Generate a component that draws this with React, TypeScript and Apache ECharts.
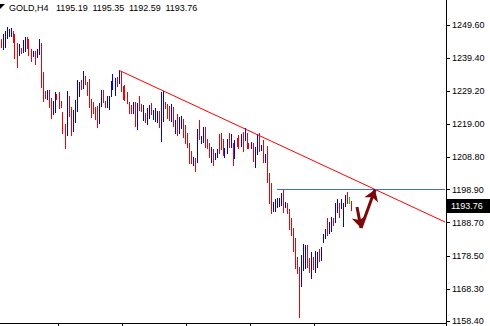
import React, { useEffect, useRef } from "react";
import * as echarts from "echarts";

// Bar highs / lows (oldest first), GOLD H4
const highs = [
  1245.28, 1246.82, 1247.75, 1248.98, 1248.36, 1248.67, 1247.75, 1246.82, 1243.96, 1243.74,
  1242.6, 1244.98, 1245.99, 1245.81, 1245.28, 1242.2, 1241.68, 1241.59, 1242.11, 1245.28,
  1244.14, 1235.21, 1229.35, 1229.57, 1229.57, 1227.01, 1226.27, 1229.05, 1228.34, 1229.05,
  1226.27, 1222.88, 1219.09, 1229.26, 1227.72, 1224.42, 1223.41, 1226.49, 1232.65, 1232.13,
  1232.65, 1235.42, 1233.88, 1232.13, 1232.87, 1226.7, 1225.97, 1224.42, 1224.64, 1225.47,
  1229.57, 1229.57, 1226.27, 1227.72, 1227.72, 1232.44, 1234.41, 1233.18, 1233.67, 1235.73,
  1235.21, 1230.9, 1231.11, 1229.05, 1225.97, 1224.95, 1225.97, 1225.97, 1225.47, 1227.81,
  1225.16, 1224.95, 1222.58, 1223.93, 1224.95, 1225.47, 1223.41, 1223.93, 1223.1, 1223.1,
  1228.95, 1229.26, 1225.97, 1225.16, 1224.73, 1225.16, 1224.42, 1220.33, 1222.18, 1221.34,
  1221.56, 1220.54, 1218.79, 1216.41, 1213.15, 1210.87, 1209.02, 1208.53, 1217.55, 1220.33,
  1215.4, 1218.26, 1218.26, 1214.38, 1213.15, 1212.1, 1211.3, 1210.25, 1211.3, 1216.01,
  1216.41, 1214.38, 1211.61, 1214.38, 1216.23, 1216.01, 1213.33, 1214.17, 1214.69, 1215.71,
  1216.01, 1216.72, 1217.77, 1216.23, 1213.33, 1213.64, 1213.33, 1211.92, 1216.01, 1216.23,
  1212.62, 1214.17, 1209.85, 1212.32, 1204.09, 1200.82, 1195.15, 1195.89, 1196.2, 1196.2,
  1197.93, 1198.97, 1195.15, 1194.85, 1192.81, 1190.04, 1186.96, 1183.88, 1178.02, 1175.13,
  1178.73, 1182.12, 1181.81, 1181.81, 1177.72, 1179.75, 1178.21, 1180.06, 1179.75, 1180.49,
  1181.1, 1185.2, 1186.65, 1190.04, 1188.99, 1190.53, 1190.04, 1194.85, 1195.89, 1194.85,
  1195.89, 1194.66, 1197.22, 1198.24, 1196.51, 1195.35,
];
const lows = [
  1242.91, 1242.3, 1242.91, 1245.5, 1246.3, 1246.12, 1244.45, 1239.52, 1236.75, 1240.35,
  1241.06, 1241.19, 1241.68, 1242.42, 1240.35, 1238.6, 1240.14, 1237.67, 1239.83, 1240.66,
  1230.59, 1226.27, 1227.2, 1226.8, 1224.42, 1221.04, 1222.18, 1222.88, 1226.89, 1224.12,
  1224.42, 1216.41, 1211.79, 1215.71, 1221.56, 1215.71, 1217.03, 1219.8, 1223.1, 1227.72,
  1229.79, 1230.09, 1231.33, 1228.03, 1224.42, 1221.34, 1222.58, 1220.54, 1218.26, 1219.31,
  1224.64, 1225.97, 1224.24, 1224.42, 1223.62, 1227.72, 1229.79, 1228.03, 1230.8, 1231.64,
  1229.26, 1226.8, 1226.49, 1225.47, 1222.39, 1222.39, 1222.39, 1218.57, 1217.55, 1223.41,
  1223.1, 1220.33, 1219.62, 1219.0, 1221.04, 1222.08, 1220.63, 1220.02, 1219.8, 1218.26,
  1213.86, 1220.02, 1223.93, 1220.85, 1220.33, 1220.02, 1218.57, 1216.41, 1215.71, 1216.41,
  1217.77, 1215.18, 1213.33, 1211.92, 1207.17, 1206.99, 1206.46, 1204.71, 1207.48, 1214.38,
  1213.33, 1213.64, 1211.92, 1211.61, 1208.83, 1207.48, 1206.46, 1208.22, 1209.02, 1210.25,
  1211.3, 1209.54, 1208.83, 1210.25, 1212.1, 1212.1, 1206.46, 1208.53, 1212.32, 1211.61,
  1212.32, 1210.87, 1214.17, 1211.61, 1211.61, 1211.61, 1207.79, 1205.94, 1209.76, 1210.87,
  1211.08, 1207.48, 1207.48, 1201.32, 1194.85, 1191.58, 1192.38, 1192.38, 1193.43, 1193.83,
  1194.14, 1192.07, 1193.61, 1191.77, 1186.65, 1184.89, 1180.06, 1174.63, 1173.09, 1159.72,
  1169.18, 1174.11, 1174.63, 1175.13, 1173.59, 1171.55, 1174.33, 1173.59, 1175.13, 1176.98,
  1177.19, 1182.83, 1183.88, 1184.89, 1185.42, 1186.22, 1187.98, 1188.99, 1192.07, 1190.53,
  1193.12, 1187.67, 1193.83, 1194.85, 1194.66, 1192.59,
];
// 1 = up bar (blue), -1 = down bar (red), 0 = unchanged (green)
const dirs = [
  -1, 1, 1, 1, 1, 1, -1, -1, -1, 1,
  -1, 1, 1, -1, -1, -1, 1, -1, 1, 1,
  -1, -1, -1, 1, -1, -1, 1, 1, -1, -1,
  -1, -1, -1, 1, -1, -1, 1, 1, 1, 1,
  -1, 1, -1, -1, -1, -1, -1, -1, -1, 1,
  1, -1, -1, 1, 1, 1, 1, 1, -1, 1,
  -1, -1, -1, -1, -1, -1, 1, -1, 1, -1,
  -1, 1, -1, 1, 1, -1, 1, 1, 1, -1,
  1, 1, -1, -1, -1, 1, -1, 1, -1, 1,
  1, -1, -1, -1, -1, -1, 1, -1, 1, -1,
  1, 1, -1, -1, -1, 1, -1, 1, 1, -1,
  -1, -1, 1, 1, -1, 1, -1, 1, -1, -1,
  1, -1, 1, -1, -1, 1, -1, 1, 1, -1,
  1, -1, 1, -1, -1, -1, 1, 1, 1, 1,
  1, -1, 1, -1, -1, -1, -1, -1, -1, -1,
  1, 1, 1, -1, -1, 1, -1, 1, 1, -1,
  1, 1, 1, -1, 1, 1, -1, 1, 1, -1,
  1, 1, 1, -1, 0, -1,
];

const symbolTitle = "GOLD,H4";
const lastBar = ["1195.19", "1195.35", "1192.59", "1193.76"];
const lastClose = 1193.76;
const priceTicks = [1158.4, 1168.3, 1178.5, 1188.7, 1198.9, 1208.8, 1219.0, 1229.2, 1239.4, 1249.6];
const timeTickSlots = [29, 61, 93, 125, 157];
const slotCount = 223;

// drawn objects (slot index, price)
const trendFrom = [59, 1235.64];
const trendTo = [222, 1188.9];
const levelFrom = [138, 1198.9];
const levelTo = [222, 1198.9];
const arrowTop = [178, 1193.5];
const arrowBottom = [180, 1187.05];
const arrowTarget = [187, 1198.9];

const RED = "#f00000";
const BLUE = "#0000f0";
const GREEN = "#00d000";
const FONT = "Liberation Sans";

export default function App() {
  const ref = useRef<HTMLDivElement>(null);
  useEffect(() => {
    document.body.style.margin = "0";
    const chart = echarts.init(ref.current!, null, { renderer: "svg" });
    const slots = Array.from({ length: slotCount }, (_, i) => String(i));
    const data = highs.map((h, i) => [i, lows[i], h, dirs[i]]);
    const arrowStyle = { color: "#7d0808", width: 3, type: "solid" };
    const option: any = {
      animation: false,
      backgroundColor: "#fff",
      grid: { left: 0, right: 44, top: 0, bottom: 3, containLabel: false },
      xAxis: {
        type: "category",
        data: slots,
        boundaryGap: true,
        axisLine: { show: true, lineStyle: { color: "#000", width: 1 } },
        axisTick: {
          show: true,
          length: 4,
          interval: (idx: number) => timeTickSlots.includes(idx),
          lineStyle: { color: "#000" },
        },
        axisLabel: { show: false },
        splitLine: { show: false },
      },
      yAxis: {
        type: "value",
        position: "right",
        min: 1157.78,
        max: 1257.3,
        scale: true,
        axisLine: { show: true, lineStyle: { color: "#000", width: 1 } },
        axisTick: { show: true, length: 4, customValues: priceTicks, lineStyle: { color: "#000" } },
        axisLabel: {
          show: true,
          customValues: priceTicks,
          formatter: (v: number) => v.toFixed(2),
          color: "#000",
          fontSize: 9,
          fontFamily: FONT,
          margin: 6,
        },
        splitLine: { show: false },
      },
      series: [
        {
          type: "custom",
          data,
          encode: { x: 0, y: [1, 2] },
          renderItem: (params: any, api: any) => {
            const i = api.value(0);
            const top = api.coord([i, api.value(2)]);
            const bot = api.coord([i, api.value(1)]);
            const d = api.value(3);
            const x = Math.floor(top[0]) + 0.5;
            return {
              type: "line",
              shape: { x1: x, y1: Math.round(top[1]), x2: x, y2: Math.round(bot[1]) + 1 },
              style: { stroke: d > 0 ? BLUE : d < 0 ? RED : GREEN, lineWidth: 1 },
            };
          },
          markLine: {
            silent: true,
            symbol: "none",
            symbolSize: 11,
            label: { show: false },
            emphasis: { disabled: true },
            animation: false,
            data: [
              [
                { coord: trendFrom, lineStyle: { color: "#ff0000", width: 1, type: "solid" } },
                { coord: trendTo },
              ],
              [
                { coord: levelFrom, lineStyle: { color: "#4169e1", width: 1, type: "solid" } },
                { coord: levelTo },
              ],
              [
                { coord: arrowTop, symbol: "none", lineStyle: arrowStyle },
                { coord: arrowBottom, symbol: "arrow" },
              ],
              [
                { coord: arrowBottom, symbol: "none", lineStyle: arrowStyle },
                { coord: arrowTarget, symbol: "arrow" },
              ],
            ],
          },
        },
      ],
    };
    chart.setOption(option);
    const yc = chart.convertToPixel({ yAxisIndex: 0 }, lastClose) as number;
    const numX = [56, 92.5, 129, 165.5];
    chart.setOption({
      graphic: [
        {
          type: "polygon",
          shape: { points: [[0, 4], [5, 4], [0, 9]] },
          style: { fill: "#000" },
        },
        {
          type: "text",
          x: 9,
          y: 8,
          style: {
            text: symbolTitle,
            font: `9px "${FONT}"`,
            fill: "#000",
            verticalAlign: "middle",
          },
        },
        ...lastBar.map((t, k) => ({
          type: "text",
          x: numX[k],
          y: 8,
          style: {
            text: t,
            font: `9px "${FONT}"`,
            fill: "#000",
            verticalAlign: "middle",
          },
        })),
        {
          type: "rect",
          shape: { x: 447, y: Math.round(yc) - 7, width: 43, height: 14 },
          style: { fill: "#000" },
        },
        {
          type: "text",
          x: 451,
          y: Math.round(yc),
          style: {
            text: lastClose.toFixed(2),
            font: `9px "${FONT}"`,
            fill: "#fff",
            verticalAlign: "middle",
          },
        },
      ],
    });
    return () => chart.dispose();
  }, []);
  return (
    <div
      ref={ref}
      style={{ position: "fixed", left: 0, top: 0, width: 490, height: 326 }}
    />
  );
}
